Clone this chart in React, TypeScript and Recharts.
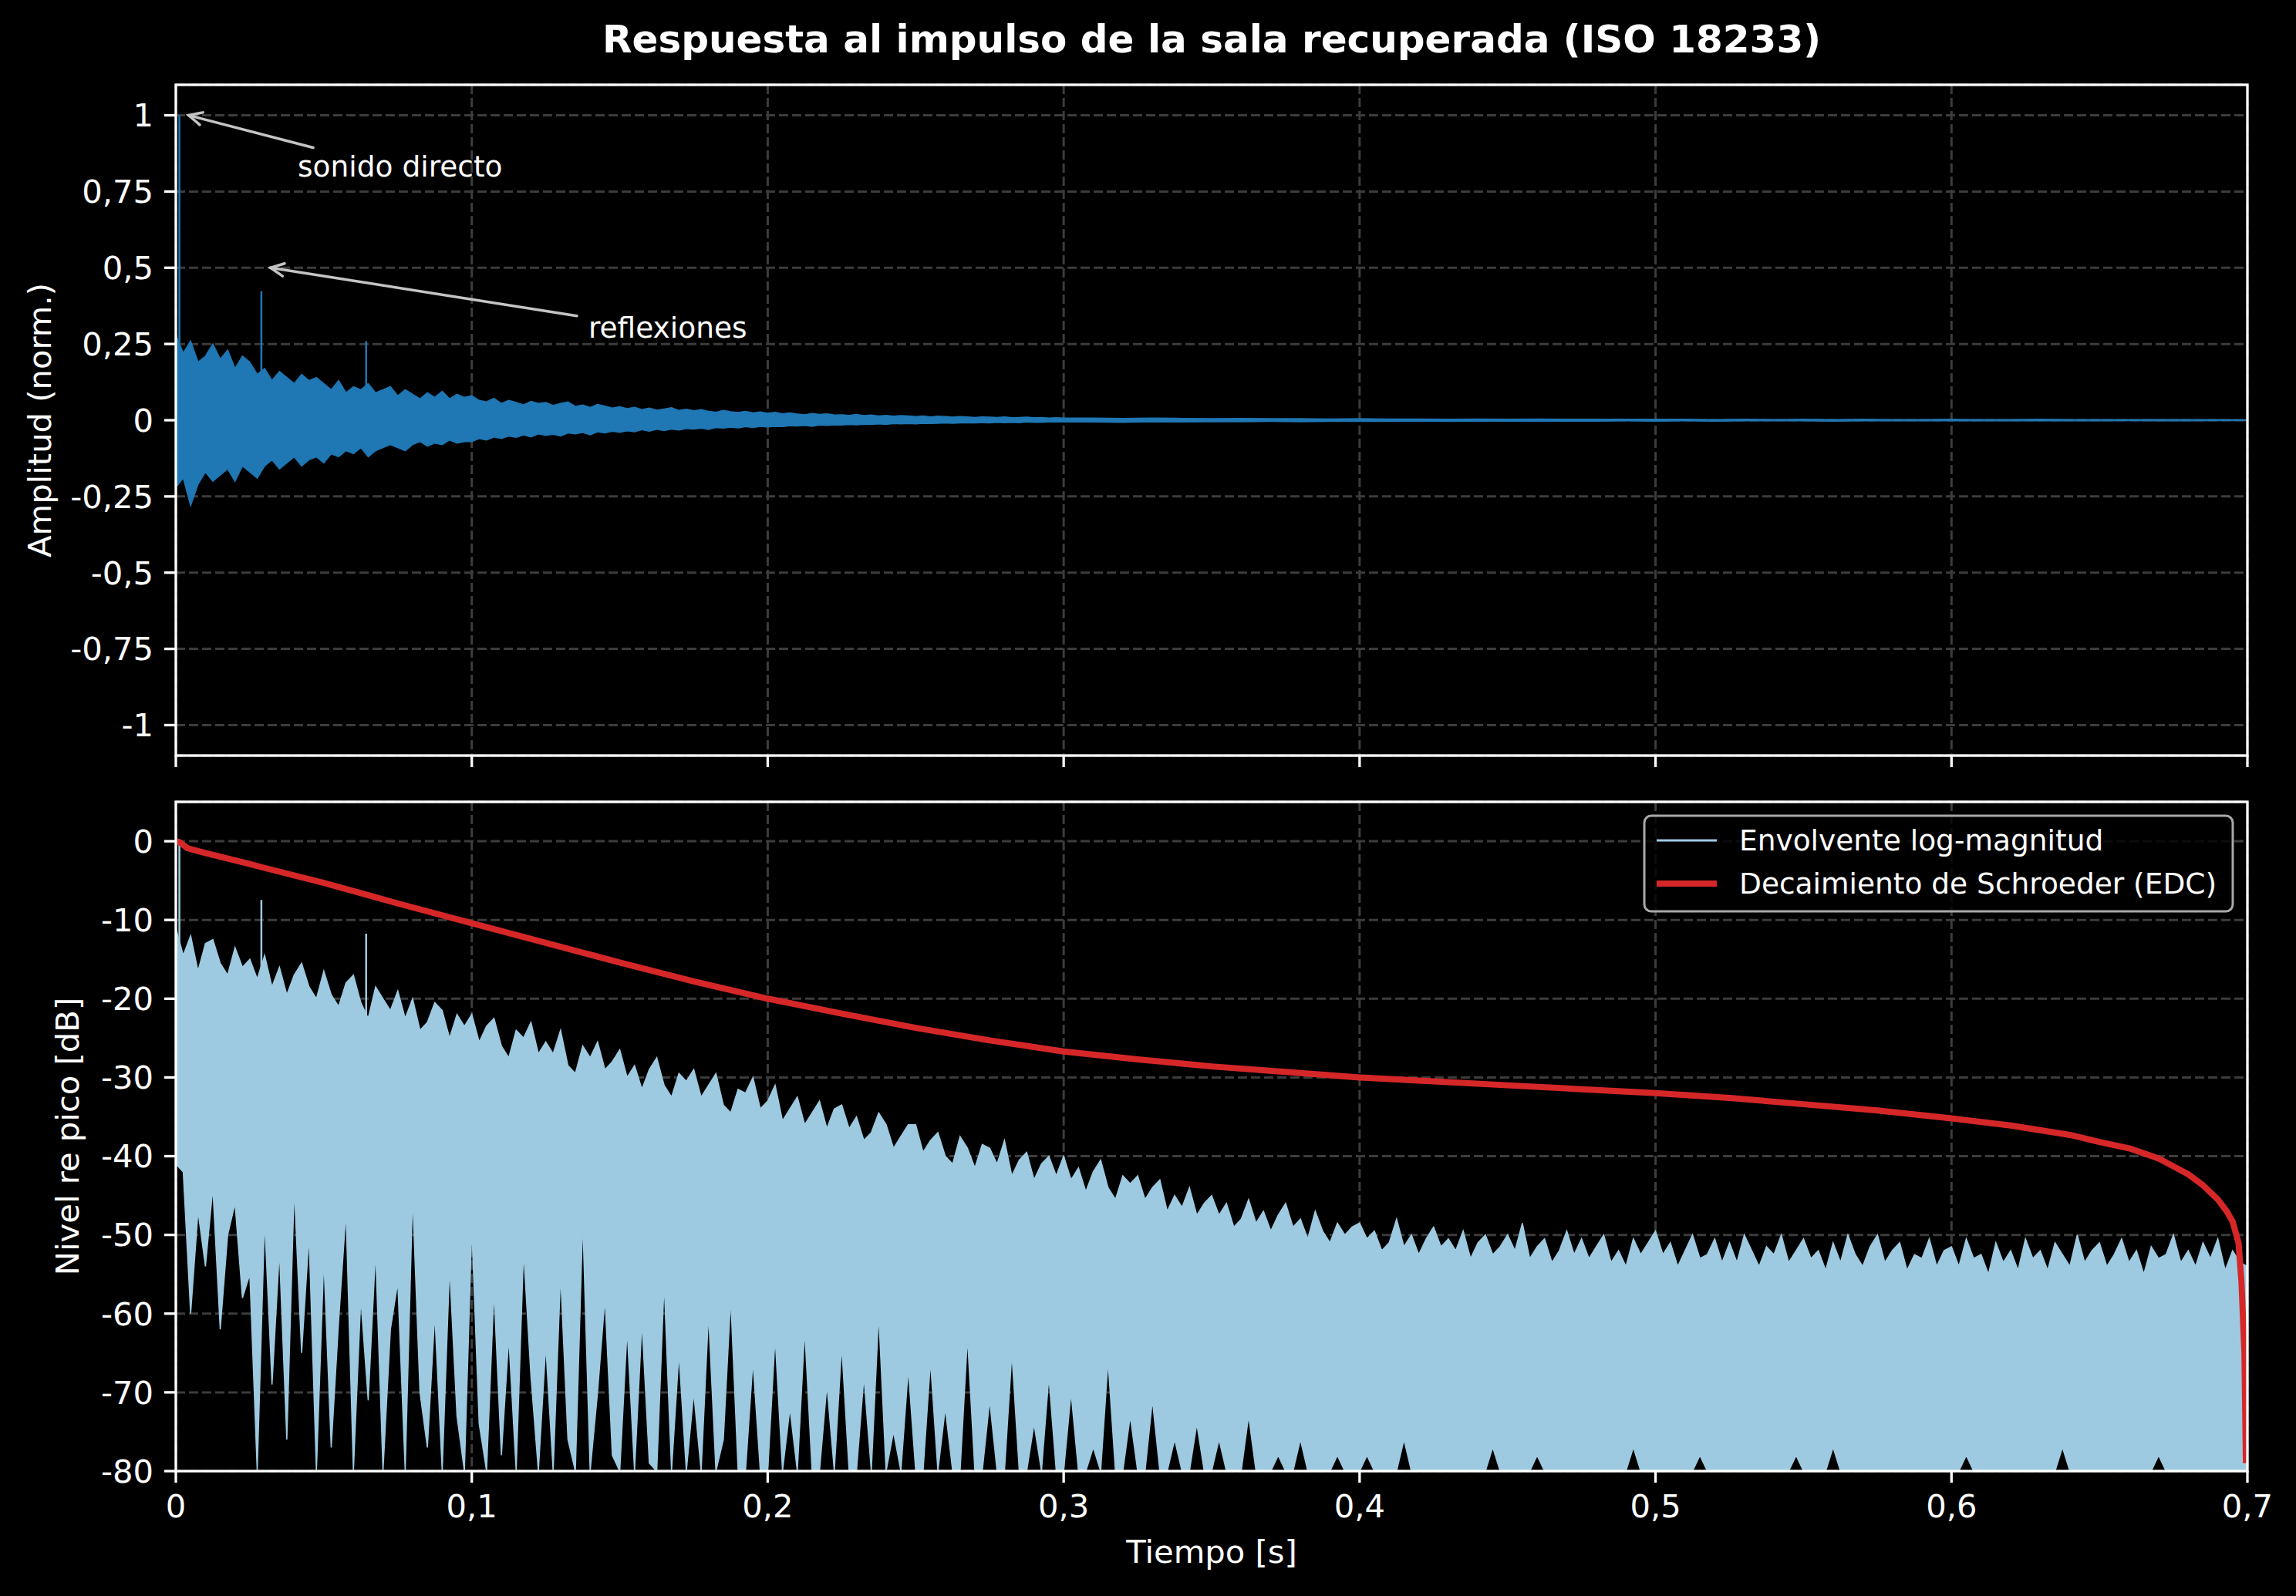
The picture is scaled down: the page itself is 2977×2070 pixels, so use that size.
import {
  Area,
  CartesianGrid,
  ComposedChart,
  Line,
  ReferenceDot,
  ReferenceLine,
  XAxis,
  YAxis,
} from "recharts";

const FONT = "'DejaVu Sans', sans-serif";
const IR_BLUE = "#1f77b4";
const ENV_BLUE = "#9ecae1";
const EDC_RED = "#d62728";

const timeTicks = [0, 0.1, 0.2, 0.3, 0.4, 0.5, 0.6, 0.7];
const ampTicks = [-1, -0.75, -0.5, -0.25, 0, 0.25, 0.5, 0.75, 1];
const dbTicks = [-80, -70, -60, -50, -40, -30, -20, -10, 0];

// impulse response band (max / min per 2.5 ms), 0 .. 0.3 s
const irHigh = [
  0.28, 0.22, 0.26, 0.19, 0.21, 0.25, 0.2, 0.23, 0.17, 0.21,
  0.19, 0.15, 0.17, 0.13, 0.16, 0.14, 0.12, 0.15, 0.13, 0.14,
  0.12, 0.1, 0.13, 0.09, 0.11, 0.1, 0.12, 0.09, 0.1, 0.11,
  0.08, 0.1, 0.085, 0.07, 0.09, 0.075, 0.095, 0.07, 0.085, 0.075,
  0.08, 0.065, 0.06, 0.072, 0.055, 0.065, 0.058, 0.05, 0.062, 0.055,
  0.058, 0.048, 0.055, 0.06, 0.045, 0.05, 0.042, 0.052, 0.046, 0.04,
  0.044, 0.038, 0.042, 0.035, 0.04, 0.033, 0.037, 0.041, 0.032, 0.036,
  0.031, 0.035, 0.029, 0.026, 0.032, 0.028, 0.025, 0.029, 0.024, 0.027,
  0.023, 0.026, 0.021, 0.024, 0.02, 0.018, 0.022, 0.019, 0.021, 0.017,
  0.018, 0.016, 0.019, 0.015, 0.017, 0.014, 0.016, 0.013, 0.015, 0.014,
  0.012, 0.014, 0.011, 0.013, 0.012, 0.01, 0.012, 0.011, 0.009, 0.011,
  0.01, 0.009, 0.011, 0.008, 0.009, 0.01, 0.008, 0.009, 0.007, 0.008,
  0.007,
];
const irLow = [
  -0.22, -0.19, -0.28, -0.21, -0.17, -0.2, -0.18, -0.16, -0.2, -0.15,
  -0.17, -0.19, -0.15, -0.13, -0.16, -0.14, -0.12, -0.15, -0.13, -0.12,
  -0.14, -0.11, -0.12, -0.1, -0.11, -0.09, -0.12, -0.1, -0.09, -0.08,
  -0.09, -0.1, -0.08, -0.07, -0.085, -0.075, -0.08, -0.065, -0.075, -0.07,
  -0.07, -0.06, -0.065, -0.055, -0.06, -0.052, -0.056, -0.048, -0.055, -0.045,
  -0.05, -0.046, -0.052, -0.042, -0.045, -0.04, -0.048, -0.038, -0.042, -0.036,
  -0.04, -0.035, -0.038, -0.031, -0.036, -0.03, -0.034, -0.029, -0.032, -0.027,
  -0.029, -0.026, -0.03, -0.024, -0.026, -0.023, -0.025, -0.021, -0.024, -0.02,
  -0.022, -0.02, -0.021, -0.018, -0.019, -0.017, -0.02, -0.016, -0.017, -0.015,
  -0.016, -0.014, -0.015, -0.013, -0.014, -0.012, -0.014, -0.011, -0.012, -0.011,
  -0.012, -0.01, -0.011, -0.01, -0.009, -0.01, -0.009, -0.008, -0.009, -0.008,
  -0.009, -0.007, -0.008, -0.007, -0.008, -0.006, -0.007, -0.007, -0.006, -0.006,
  -0.006,
];
// late tail, 10 ms steps, 0.31 .. 0.70 s
const irTailHigh = [
  0.007, 0.006, 0.007, 0.006, 0.005, 0.006, 0.005, 0.005, 0.004, 0.005,
  0.004, 0.004, 0.003, 0.004, 0.003, 0.004, 0.003, 0.003, 0.003, 0.003,
  0.003, 0.002, 0.003, 0.002, 0.003, 0.002, 0.003, 0.002, 0.002, 0.003,
  0.002, 0.002, 0.003, 0.002, 0.002, 0.002, 0.002, 0.002, 0.002, 0.001,
];
const irTailLow = [
  -0.006, -0.007, -0.005, -0.006, -0.005, -0.005, -0.004, -0.005, -0.004, -0.004,
  -0.004, -0.003, -0.004, -0.003, -0.003, -0.003, -0.003, -0.003, -0.002, -0.003,
  -0.002, -0.003, -0.002, -0.002, -0.002, -0.003, -0.002, -0.002, -0.002, -0.002,
  -0.002, -0.002, -0.002, -0.002, -0.002, -0.001, -0.002, -0.002, -0.001, -0.001,
];

// direct sound + strongest early reflections
const spikeTimes = [0.0012, 0.0289, 0.0643];
const spikeAmps = [1.0, 0.423, 0.259];

// log-magnitude envelope in dB, 2.5 ms steps, 0 .. 0.7 s
const envTop = [
  -11, -14.5, -12, -16.5, -13, -12.5, -15.5, -17, -13.5, -16,
  -15, -17.5, -14.5, -18.5, -16, -19.5, -17, -15.5, -18.5, -20,
  -16.5, -19.5, -21, -18, -17, -20.5, -22.5, -18.5, -20, -21.5,
  -19, -22.5, -20, -24, -23, -20.5, -21.5, -25, -22, -23.5,
  -22, -25.5, -23.5, -22.5, -26, -27.5, -24, -25, -23, -27,
  -25.5, -27, -24, -28.5, -29.5, -26, -27.5, -25.5, -29, -28,
  -26.5, -30, -28.5, -31.5, -29, -27.5, -31, -32.5, -29.5, -30.5,
  -29, -32.5, -31, -29.5, -33.5, -34.5, -31.5, -32, -30, -34,
  -33, -31, -35.5, -34, -32.5, -36, -34.5, -33, -36.5, -34,
  -33.5, -36.5, -35, -38, -37, -34.5, -36, -39, -37.5, -36,
  -36, -39.5, -38, -37, -40, -41, -37.5, -39, -41.5, -38.5,
  -39, -41, -38, -42.5, -40.5, -39.5, -43, -41, -40, -42.5,
  -40, -43, -41.5, -44.5, -42, -40.5, -44, -45.5, -42.5, -43.5,
  -42.5, -45.5, -44, -43, -47, -45, -46.5, -44, -47.5, -46,
  -45, -47.5, -46, -49, -48, -45.5, -48.5, -47, -49.5, -47.5,
  -46, -49, -48, -50.5, -47, -49.5, -51, -48.5, -50, -49,
  -48.5, -50.5, -49.5, -52, -51, -48, -51.5, -50, -52.5, -50.5,
  -49, -51.5, -50.5, -52, -49.5, -53, -51, -50, -52.5, -51.5,
  -50, -52, -48.5, -53, -51.5, -50.5, -53.5, -52, -49.5, -52.5,
  -50.5, -53, -51.5, -50, -53.5, -52, -54, -50.5, -52.5, -51,
  -49.5, -52.5, -51, -54, -52, -50, -53, -52.5, -50.5, -53.5,
  -51, -53.5, -50, -52, -54, -51.5, -52.5, -50, -53.5, -52,
  -50.5, -53, -52, -54.5, -51, -53.5, -50, -52.5, -54, -51.5,
  -50, -53.5, -52, -51, -54.5, -52.5, -53, -50.5, -54, -52,
  -51.5, -54, -50.5, -53, -52.5, -55, -51, -53.5, -52, -54.5,
  -50.5, -53, -52, -54.5, -51, -52.5, -54, -50, -53.5, -52,
  -51, -54, -52.5, -50.5, -53.5, -52, -55, -51.5, -53, -52.5,
  -50, -53.5, -52, -54, -51, -53, -50.5, -54.5, -52, -53.5,
  -54,
];
const envBottom = [
  -41, -42, -60, -47, -54, -44, -62, -50, -46, -58,
  -55, -80, -48, -69, -52, -76, -44, -65, -50, -80,
  -53, -77, -61, -47, -80, -58, -71, -52, -80, -62,
  -56, -80, -45, -70, -77, -60, -80, -54, -73, -80,
  -49, -74, -80, -57, -78, -63, -80, -52, -68, -80,
  -64, -80, -55, -76, -80, -48, -80, -70, -58, -78,
  -80, -62, -80, -61, -79, -80, -56, -80, -65, -80,
  -70, -80, -60, -80, -76, -58, -80, -80, -66, -80,
  -80, -63, -80, -72, -80, -62, -80, -80, -69, -80,
  -64, -80, -80, -68, -80, -60, -80, -75, -80, -67,
  -80, -80, -66, -80, -72, -80, -80, -63, -80, -80,
  -71, -80, -80, -65, -80, -80, -74, -80, -68, -80,
  -80, -70, -80, -80, -77, -80, -66, -80, -80, -73,
  -80, -80, -71, -80, -80, -76, -80, -80, -74, -80,
  -80, -76, -80, -80, -80, -73, -80, -80, -80, -78,
  -80, -80, -76, -80, -80, -80, -80, -78, -80, -80,
  -80, -78, -80, -80, -80, -80, -76, -80, -80, -80,
  -80, -80, -80, -80, -80, -80, -80, -80, -77, -80,
  -80, -80, -80, -80, -78, -80, -80, -80, -80, -80,
  -80, -80, -80, -80, -80, -80, -80, -77, -80, -80,
  -80, -80, -80, -80, -80, -80, -78, -80, -80, -80,
  -80, -80, -80, -80, -80, -80, -80, -80, -80, -78,
  -80, -80, -80, -80, -77, -80, -80, -80, -80, -80,
  -80, -80, -80, -80, -80, -80, -80, -80, -80, -80,
  -80, -80, -78, -80, -80, -80, -80, -80, -80, -80,
  -80, -80, -80, -80, -80, -77, -80, -80, -80, -80,
  -80, -80, -80, -80, -80, -80, -80, -80, -78, -80,
  -80, -80, -80, -80, -80, -80, -80, -80, -80, -80,
  -80,
];

// Schroeder energy decay curve (dB)
const edcTimes = [
  0, 0.0012, 0.004, 0.01, 0.025, 0.029, 0.05, 0.0625, 0.075, 0.1,
  0.125, 0.15, 0.175, 0.2, 0.225, 0.25, 0.275, 0.3, 0.325, 0.35,
  0.375, 0.4, 0.425, 0.45, 0.475, 0.5, 0.525, 0.55, 0.575, 0.6,
  0.62, 0.64, 0.65, 0.66, 0.67, 0.68, 0.685, 0.69, 0.693, 0.695,
  0.697, 0.698, 0.699, 0.6995,
];
const edcDb = [
  0, -0.1, -0.9, -1.5, -2.9, -3.3, -5.3, -6.6, -7.9, -10.4,
  -12.9, -15.4, -17.8, -20.0, -21.9, -23.7, -25.3, -26.7, -27.7, -28.6,
  -29.3, -30.0, -30.5, -31.0, -31.5, -32.0, -32.6, -33.4, -34.2, -35.2,
  -36.1, -37.3, -38.2, -39.0, -40.3, -42.3, -43.7, -45.5, -47.0, -48.3,
  -51.0, -56.0, -65.0, -79.0,
];

const STEP = 0.0025;

const irData = [
  ...irHigh.map((hi, i) => ({ t: +(i * STEP).toFixed(4), band: [irLow[i], hi] })),
  ...irTailHigh.map((hi, i) => ({ t: +(0.31 + i * 0.01).toFixed(2), band: [irTailLow[i], hi] })),
];
const irSpikes = spikeTimes.flatMap((t, i) => [
  { t, v: 0 },
  { t, v: spikeAmps[i] },
  { t, v: null },
]);
const envData = envTop.map((top, i) => ({ t: +(i * STEP).toFixed(4), band: [envBottom[i], top] }));
const envSpikes = spikeTimes.flatMap((t, i) => [
  { t, v: -25 },
  { t, v: 20 * Math.log10(spikeAmps[i]) },
  { t, v: null },
]);
const edcData = edcTimes.map((t, i) => ({ t, v: edcDb[i] }));

const decimal = (v: number) => String(v).replace(".", ",");

const tickStyle = { fill: "#ffffff", fontSize: 41.7, fontFamily: FONT };
const tickLineStyle = { stroke: "#ffffff", strokeWidth: 3.3 };
const gridProps = { stroke: "#3c3c3c", strokeWidth: 3, strokeDasharray: "12 5" };

// open "->" arrow from (x1,y1) to the tip at (x2,y2)
const Arrow = (p: any) => {
  const { x1, y1, x2, y2 } = p;
  const a = Math.atan2(y2 - y1, x2 - x1);
  const len = 19;
  const w = 0.45;
  const ax = x2 - len * Math.cos(a - w);
  const ay = y2 - len * Math.sin(a - w);
  const bx = x2 - len * Math.cos(a + w);
  const by = y2 - len * Math.sin(a + w);
  return (
    <g stroke="#c4c4c4" strokeWidth={3.5} fill="none" strokeLinecap="round">
      <line x1={x1} y1={y1} x2={x2} y2={y2} />
      <path d={`M${ax},${ay} L${x2},${y2} L${bx},${by}`} />
    </g>
  );
};

const note = (text: string) => (p: any) => (
  <text x={p.cx} y={p.cy} fill="#ffffff" fontSize={37.5} fontFamily={FONT}>
    {text}
  </text>
);

const W = 2977;
const PLOT_L = 228;
const PLOT_R = 2914;

export default function App() {
  return (
    <div
      style={{
        position: "absolute",
        left: 0,
        top: 0,
        width: W,
        height: 2070,
        background: "#000000",
        overflow: "hidden",
      }}
    >
      <div style={{ position: "absolute", left: 0, top: 0 }}>
        <ComposedChart width={W} height={1040} margin={{ top: 110, right: W - PLOT_R, bottom: 0, left: 0 }}>
          <CartesianGrid {...gridProps} />
          <XAxis
            dataKey="t"
            type="number"
            domain={[0, 0.7]}
            ticks={timeTicks}
            allowDataOverflow
            interval={0}
            height={60}
            axisLine={false}
            tickLine={tickLineStyle}
            tickSize={15}
            tickFormatter={() => ""}
          />
          <YAxis
            type="number"
            domain={[-1.1, 1.1]}
            ticks={ampTicks}
            allowDataOverflow
            interval={0}
            width={PLOT_L}
            axisLine={false}
            tickLine={tickLineStyle}
            tickSize={15}
            tickMargin={14}
            tick={tickStyle}
            tickFormatter={decimal}
          />
          <Area
            data={irData}
            dataKey="band"
            type="linear"
            stroke={IR_BLUE}
            strokeWidth={1.5}
            fill={IR_BLUE}
            fillOpacity={1}
            dot={false}
            activeDot={false}
            isAnimationActive={false}
          />
          <Line
            data={irSpikes}
            dataKey="v"
            type="linear"
            stroke={IR_BLUE}
            strokeWidth={2.5}
            dot={false}
            activeDot={false}
            connectNulls={false}
            isAnimationActive={false}
          />
          <ReferenceLine segment={[{ x: 0.0464, y: 0.894 }, { x: 0.0043, y: 1.0 }]} shape={Arrow} />
          <ReferenceLine segment={[{ x: 0.1355, y: 0.342 }, { x: 0.032, y: 0.5 }]} shape={Arrow} />
          <ReferenceDot x={0.0412} y={0.8} r={0} shape={note("sonido directo")} />
          <ReferenceDot x={0.1394} y={0.27} r={0} shape={note("reflexiones")} />
        </ComposedChart>
      </div>

      <div style={{ position: "absolute", left: 0, top: 1030 }}>
        <ComposedChart width={W} height={1040} margin={{ top: 10, right: W - PLOT_R, bottom: 0, left: 0 }}>
          <CartesianGrid {...gridProps} />
          <XAxis
            dataKey="t"
            type="number"
            domain={[0, 0.7]}
            ticks={timeTicks}
            allowDataOverflow
            interval={0}
            height={162}
            axisLine={false}
            tickLine={tickLineStyle}
            tickSize={15}
            tickMargin={15}
            tick={tickStyle}
            tickFormatter={decimal}
          />
          <YAxis
            type="number"
            domain={[-80, 5]}
            ticks={dbTicks}
            allowDataOverflow
            interval={0}
            width={PLOT_L}
            axisLine={false}
            tickLine={tickLineStyle}
            tickSize={15}
            tickMargin={14}
            tick={tickStyle}
            tickFormatter={decimal}
          />
          <Area
            data={envData}
            dataKey="band"
            type="linear"
            stroke={ENV_BLUE}
            strokeWidth={1.5}
            fill={ENV_BLUE}
            fillOpacity={1}
            dot={false}
            activeDot={false}
            isAnimationActive={false}
          />
          <Line
            data={envSpikes}
            dataKey="v"
            type="linear"
            stroke={ENV_BLUE}
            strokeWidth={2.5}
            dot={false}
            activeDot={false}
            connectNulls={false}
            isAnimationActive={false}
          />
          <Line
            data={edcData}
            dataKey="v"
            type="linear"
            stroke={EDC_RED}
            strokeWidth={8}
            strokeLinejoin="round"
            dot={false}
            activeDot={false}
            isAnimationActive={false}
          />
        </ComposedChart>
      </div>

      {/* frames, titles and legend */}
      <svg
        width={W}
        height={2070}
        style={{ position: "absolute", left: 0, top: 0, pointerEvents: "none" }}
        fontFamily={FONT}
      >
        <rect x={PLOT_L} y={110} width={PLOT_R - PLOT_L} height={870} fill="none" stroke="#ffffff" strokeWidth={3.3} />
        <rect x={PLOT_L} y={1040} width={PLOT_R - PLOT_L} height={868} fill="none" stroke="#ffffff" strokeWidth={3.3} />
        <text x={(PLOT_L + PLOT_R) / 2} y={68} textAnchor="middle" fill="#ffffff" fontSize={50} fontWeight="bold">
          Respuesta al impulso de la sala recuperada (ISO 18233)
        </text>
        <text transform="translate(66,545) rotate(-90)" textAnchor="middle" fill="#ffffff" fontSize={41.7}>
          Amplitud (norm.)
        </text>
        <text transform="translate(102,1474) rotate(-90)" textAnchor="middle" fill="#ffffff" fontSize={41.7}>
          Nivel re pico [dB]
        </text>
        <text x={(PLOT_L + PLOT_R) / 2} y={2027} textAnchor="middle" fill="#ffffff" fontSize={41.7}>
          Tiempo [s]
        </text>

        <g>
          <rect x={2132} y={1058} width={763} height={124} rx={9} fill="#000000" fillOpacity={0.8} stroke="#a8a8a8" strokeWidth={3} />
          <line x1={2148} y1={1090} x2={2226} y2={1090} stroke={ENV_BLUE} strokeWidth={3} />
          <text x={2255} y={1090} dominantBaseline="central" fill="#ffffff" fontSize={37.5}>
            Envolvente log-magnitud
          </text>
          <line x1={2148} y1={1146} x2={2226} y2={1146} stroke={EDC_RED} strokeWidth={8} />
          <text x={2255} y={1146} dominantBaseline="central" fill="#ffffff" fontSize={37.5}>
            Decaimiento de Schroeder (EDC)
          </text>
        </g>
      </svg>
    </div>
  );
}
